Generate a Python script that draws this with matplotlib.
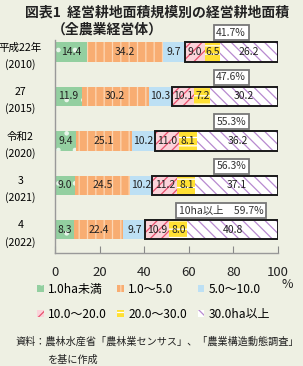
import matplotlib
matplotlib.use("Agg")
import matplotlib.pyplot as plt
from matplotlib.patches import Rectangle, Patch
import numpy as np

plt.rcParams['font.family'] = ['Noto Sans CJK JP', 'DejaVu Sans']
plt.rcParams['hatch.linewidth'] = 0.9

# data
years = ["平成22年\n(2010)", "27\n(2015)", "令和2\n(2020)", "3\n(2021)", "4\n(2022)"]
classes = ["1.0ha未満", "1.0～5.0", "5.0～10.0", "10.0～20.0", "20.0～30.0", "30.0ha以上"]
under1 = [14.4, 11.9, 9.4, 9.0, 8.3]
from1to5 = [34.2, 30.2, 25.1, 24.5, 22.4]
from5to10 = [9.7, 10.3, 10.2, 10.2, 9.7]
from10to20 = [9.0, 10.1, 11.0, 11.2, 10.9]
from20to30 = [6.5, 7.2, 8.1, 8.1, 8.0]
over30 = [26.2, 30.2, 36.2, 37.1, 40.8]
share10 = ["41.7%", "47.6%", "55.3%", "56.3%", "10ha以上　59.7%"]

series = [under1, from1to5, from5to10, from10to20, from20to30, over30]
faces = ["#93cfa0", "#f8ad72", "#bde0f4", "#fbd3da", "#ffe033", "#ffffff"]
hatches = [".", "||", None, "///", "--", "\\\\\\"]
hcols = ["#e8f5ea", "#fdd7b5", "#bde0f4", "#e8506e", "#ffffff", "#b88ad0"]

bg = "#eef0e3"
fig = plt.figure(figsize=(3.03, 3.66), dpi=100, facecolor=bg)
ax = fig.add_axes([55 / 303, 1 - 253 / 366, 223 / 303, 213 / 366], facecolor=bg)

y = np.arange(len(years))
h = 0.43
left = np.zeros(len(years))
handles = []
for vals, fc, ht, hc, lab in zip(series, faces, hatches, hcols, classes):
    bars = ax.barh(y, vals, left=left, height=h, color=fc, hatch=ht,
                   edgecolor=hc, linewidth=0)
    for b, v in zip(bars, vals):
        ax.text(b.get_x() + b.get_width() / 2, b.get_y() + h / 2, f"{v:.1f}",
                ha="center", va="center", fontsize=7.5, color="#222222", zorder=7)
    handles.append(Patch(facecolor=fc, hatch=ht, edgecolor=hc, linewidth=0, label=lab))
    left = left + np.array(vals)

# outline for 10ha and over
start10 = np.array(under1) + np.array(from1to5) + np.array(from5to10)
for i in range(len(years)):
    ax.add_patch(Rectangle((start10[i], y[i] - h / 2), 100 - start10[i], h,
                           fill=False, edgecolor="#1a1a1a", linewidth=1.4, zorder=5))
    bx = 79 if i < 4 else 74.5
    ax.text(bx, y[i] - 0.43, share10[i], ha="center", va="center", fontsize=7.5,
            color="#333333",
            bbox=dict(boxstyle="square,pad=0.25", fc="white", ec="#777777", lw=1.3))

ax.set_xlim(0, 100)
ax.set_ylim(4.52, -0.27)
ax.set_yticks(y)
ax.set_yticklabels(years, fontsize=7.6, linespacing=1.7, ha="center")
ax.tick_params(axis="y", length=0, pad=25)
ax.set_xticks(np.arange(0, 101, 20))
ax.tick_params(axis="x", direction="in", length=5, pad=9, labelsize=9.5,
               color="#888888", labelcolor="#222222")
for s in ["top", "right"]:
    ax.spines[s].set_visible(False)
for s in ["left", "bottom"]:
    ax.spines[s].set_color("#999999")
    ax.spines[s].set_linewidth(1)

fig.text(287 / 303, 1 - 285 / 366, "%", ha="center", va="center", fontsize=9, color="#222222")

fig.text(25 / 303, 1 - 13 / 366, "図表1  経営耕地面積規模別の経営耕地面積",
         ha="left", va="center", fontsize=10, fontweight="bold", color="#222222")
fig.text(52 / 303, 1 - 30 / 366, "（全農業経営体）",
         ha="left", va="center", fontsize=10, fontweight="bold", color="#222222")

order = [0, 3, 1, 4, 2, 5]
fig.legend([handles[i] for i in order], [classes[i] for i in order], ncol=3,
           loc="upper left", bbox_to_anchor=(37 / 303, 1 - 283 / 366),
           frameon=False, fontsize=8.6, handlelength=0.55, handleheight=0.55,
           handletextpad=0.35, columnspacing=0.9, labelspacing=1.0,
           borderaxespad=0, borderpad=0)

fig.text(15 / 303, 1 - 342 / 366, "資料：農林水産省「農林業センサス」、「農業構造動態調査」",
         ha="left", va="center", fontsize=7.3, color="#222222")
fig.text(48 / 303, 1 - 360 / 366, "を基に作成",
         ha="left", va="center", fontsize=7.3, color="#222222")

fig.savefig("out.png", dpi=100, facecolor=bg)
